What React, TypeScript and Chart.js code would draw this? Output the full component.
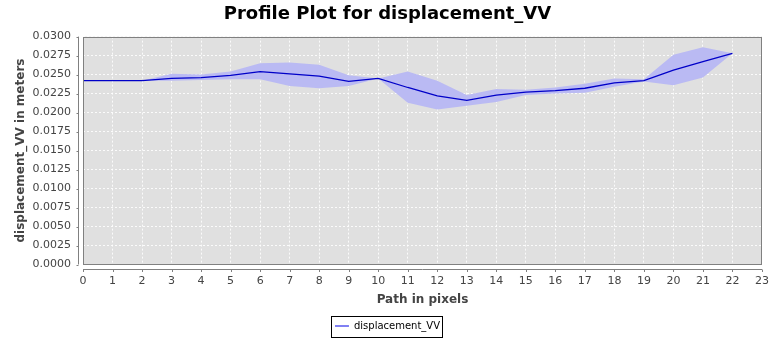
import React, { useEffect, useRef } from "react";
import { Chart, registerables } from "chart.js";

Chart.register(...registerables);

const chartTitle = "Profile Plot for displacement_VV";
const xAxisTitle = "Path in pixels";
const yAxisTitle = "displacement_VV in meters";
const seriesName = "displacement_VV";

const pathPositions = [0, 1, 2, 3, 4, 5, 6, 7, 8, 9, 10, 11, 12, 13, 14, 15, 16, 17, 18, 19, 20, 21, 22];
const profileValues = [0.0242, 0.0242, 0.0242, 0.0245, 0.0246, 0.0249, 0.0254, 0.0251, 0.0248, 0.0241, 0.0245, 0.0233, 0.0222, 0.0216, 0.0223, 0.0227, 0.0229, 0.0232, 0.0239, 0.0242, 0.0256, 0.0267, 0.0278];
const upperValues = [0.0242, 0.0242, 0.0242, 0.0251, 0.0250, 0.0254, 0.0265, 0.0266, 0.0263, 0.0249, 0.0245, 0.0254, 0.0242, 0.0223, 0.0231, 0.0230, 0.0233, 0.0238, 0.0245, 0.0244, 0.0276, 0.0286, 0.0278];
const lowerValues = [0.0242, 0.0242, 0.0242, 0.0242, 0.0243, 0.0244, 0.0244, 0.0235, 0.0232, 0.0235, 0.0245, 0.0213, 0.0204, 0.0209, 0.0214, 0.0223, 0.0225, 0.0226, 0.0234, 0.0241, 0.0236, 0.0246, 0.0278];

const xMin = 0;
const xMax = 23;
const xStep = 1;
const yMin = 0;
const yMax = 0.03;
const yStep = 0.0025;

const FONT = "'DejaVu Sans', sans-serif";

const toPoints = (vals: number[]) => vals.map((v, i) => ({ x: pathPositions[i], y: v }));

const plotFrame = {
  id: "plotFrame",
  beforeDraw(chart: any) {
    const { ctx, chartArea: a } = chart;
    ctx.save();
    ctx.fillStyle = "#e0e0e0";
    ctx.fillRect(a.left, a.top, a.right - a.left, a.bottom - a.top);
    ctx.restore();
  },
  afterDatasetsDraw(chart: any) {
    const { ctx, chartArea: a } = chart;
    ctx.save();
    ctx.strokeStyle = "#808080";
    ctx.lineWidth = 1;
    ctx.strokeRect(Math.round(a.left) + 0.5, Math.round(a.top) + 0.5, Math.round(a.right - a.left) - 1, Math.round(a.bottom - a.top) - 1);
    ctx.restore();
  },
  afterDraw(chart: any) {
    const { ctx, chartArea: a, scales } = chart;
    ctx.save();
    ctx.strokeStyle = "#808080";
    ctx.lineWidth = 1;
    const yx = Math.round(a.left) - 4.5;
    ctx.beginPath();
    ctx.moveTo(yx, a.top);
    ctx.lineTo(yx, a.bottom);
    scales.y.ticks.forEach((t: any) => {
      const py = Math.round(scales.y.getPixelForValue(t.value)) + 0.5;
      ctx.moveTo(yx - 2, py);
      ctx.lineTo(yx, py);
    });
    const xy = Math.round(a.bottom) + 4.5;
    ctx.moveTo(a.left, xy);
    ctx.lineTo(a.right, xy);
    scales.x.ticks.forEach((t: any) => {
      const px = Math.round(scales.x.getPixelForValue(t.value)) + 0.5;
      ctx.moveTo(px, xy);
      ctx.lineTo(px, xy + 2.5);
    });
    ctx.stroke();
    const lg = chart.legend;
    if (lg && lg.legendHitBoxes && lg.legendHitBoxes.length) {
      const hb = lg.legendHitBoxes[0];
      const cy = hb.top + hb.height / 2;
      ctx.strokeStyle = "#000000";
      ctx.strokeRect(Math.round(hb.left - 4) + 0.5, Math.round(cy - 10.5) + 0.5, Math.round(hb.width + 6), 21);
    }
    ctx.restore();
  },
};

export default function App() {
  const ref = useRef<HTMLCanvasElement>(null);
  useEffect(() => {
    const canvas = ref.current;
    if (!canvas) return;
    const chart = new Chart(canvas, {
      type: "line",
      data: {
        datasets: [
          {
            label: seriesName,
            data: toPoints(profileValues),
            borderColor: "rgb(0,0,200)",
            borderWidth: 1.3,
            pointRadius: 0,
            fill: false,
            tension: 0,
          },
          {
            label: "upper",
            data: toPoints(upperValues),
            borderWidth: 0,
            borderColor: "rgba(0,0,0,0)",
            pointRadius: 0,
            fill: false,
            tension: 0,
          },
          {
            label: "lower",
            data: toPoints(lowerValues),
            borderWidth: 0,
            borderColor: "rgba(0,0,0,0)",
            backgroundColor: "rgb(186,186,243)",
            pointRadius: 0,
            fill: "-1",
            tension: 0,
          },
        ],
      },
      plugins: [plotFrame],
      options: {
        animation: false,
        responsive: false,
        devicePixelRatio: 1,
        layout: { padding: { top: 0, left: 13, right: 13, bottom: -2 } },
        plugins: {
          tooltip: { enabled: false },
          title: {
            display: true,
            text: chartTitle,
            color: "#000000",
            font: { family: FONT, size: 18, weight: "bold" },
            padding: { top: 4, bottom: 11 },
          },
          legend: {
            display: true,
            position: "bottom",
            labels: {
              font: { family: FONT, size: 10 },
              color: "#333333",
              boxWidth: 14,
              boxHeight: 1,
              padding: 10,
              generateLabels: () => [
                {
                  text: seriesName,
                  fillStyle: "rgb(0,0,230)",
                  strokeStyle: "rgb(0,0,230)",
                  lineWidth: 0,
                  hidden: false,
                  datasetIndex: 0,
                },
              ],
            },
          },
        },
        scales: {
          x: {
            type: "linear",
            min: xMin,
            max: xMax,
            afterFit: (s: any) => {
              s.height = 46.5;
            },
            ticks: {
              stepSize: xStep,
              padding: 0,
              color: "#444444",
              font: { family: FONT, size: 11 },
              maxRotation: 0,
              autoSkip: false,
            },
            grid: {
              color: "rgba(255,255,255,0.85)",
              lineWidth: 1,
              drawTicks: true,
              tickLength: 10,
              tickColor: "rgba(0,0,0,0)",
            },
            border: { display: false, dash: [2, 2] },
            title: {
              display: true,
              text: xAxisTitle,
              color: "#444444",
              font: { family: FONT, size: 12, weight: "bold" },
              padding: { top: 0, bottom: 4 },
            },
          },
          y: {
            type: "linear",
            min: yMin,
            max: yMax,
            afterFit: (s: any) => {
              s.width = 70;
            },
            ticks: {
              stepSize: yStep,
              padding: 12,
              color: "#444444",
              font: { family: FONT, size: 11 },
              callback: (v: any) => Number(v).toFixed(4),
            },
            grid: {
              color: "rgba(255,255,255,0.85)",
              lineWidth: 1,
              drawTicks: false,
            },
            border: { display: false, dash: [2, 2] },
            title: {
              display: true,
              text: yAxisTitle,
              color: "#444444",
              font: { family: FONT, size: 12, weight: "bold" },
              padding: { top: 1, bottom: 0 },
            },
          },
        },
      },
    } as any);
    return () => chart.destroy();
  }, []);
  return (
    <div style={{ position: "absolute", left: 0, top: 0, width: 775, height: 339 }}>
      <canvas ref={ref} width={775} height={339} style={{ display: "block", width: 775, height: 339 }} />
    </div>
  );
}
